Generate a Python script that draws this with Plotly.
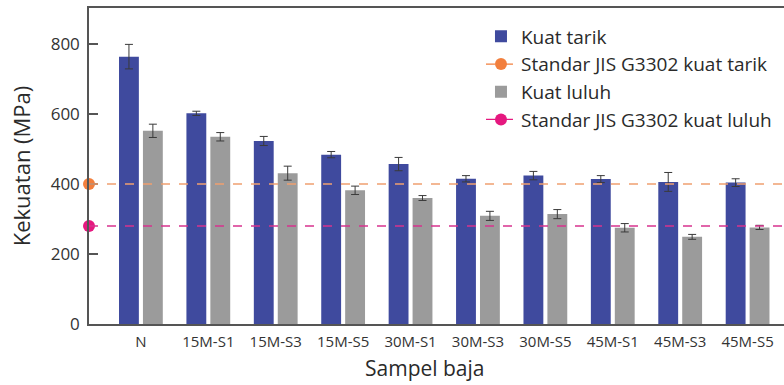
import plotly.graph_objects as go

categories = ["N", "15M-S1", "15M-S3", "15M-S5", "30M-S1", "30M-S3", "30M-S5", "45M-S1", "45M-S3", "45M-S5"]
kuat_tarik = [764, 602, 523, 484, 457, 415, 424, 414, 406, 404]
kuat_tarik_err = [35, 6, 13, 9, 19, 9, 12, 10, 27, 11]
kuat_luluh = [552, 535, 431, 382, 360, 309, 314, 275, 249, 276]
kuat_luluh_err = [19, 12, 20, 12, 7, 13, 13, 12, 7, 6]
std_tarik = 400
std_luluh = 280
y_ticks = [0, 200, 400, 600, 800]

FONT = "Open Sans"
BLUE = "#3f4a9e"
GRAY = "#9b9b9b"
ORANGE = "#f27f3d"
MAGENTA = "#e5187f"
X_RANGE = [-0.77, 9.54]
xpos = list(range(len(categories)))

fig = go.Figure()
fig.add_trace(go.Bar(
    x=xpos, y=kuat_tarik, name="Kuat tarik", marker=dict(color=BLUE, line=dict(width=0)),
    error_y=dict(type="data", array=kuat_tarik_err, color="#3a3a3a", thickness=1, width=4),
))
fig.add_trace(go.Scatter(
    x=[X_RANGE[0]], y=[std_tarik], name="Standar JIS G3302 kuat tarik", mode="lines+markers",
    marker=dict(color=ORANGE, size=12), line=dict(color=ORANGE, dash="dash", width=1.2),
    cliponaxis=False,
))
fig.add_trace(go.Bar(
    x=xpos, y=kuat_luluh, name="Kuat luluh", marker=dict(color=GRAY, line=dict(width=0)),
    error_y=dict(type="data", array=kuat_luluh_err, color="#3a3a3a", thickness=1, width=4),
))
fig.add_trace(go.Scatter(
    x=[X_RANGE[0]], y=[std_luluh], name="Standar JIS G3302 kuat luluh", mode="lines+markers",
    marker=dict(color=MAGENTA, size=12), line=dict(color=MAGENTA, dash="dash", width=1.2),
    cliponaxis=False,
))

shapes = []
for val, col in [(std_tarik, "#f0a070"), (std_luluh, "#d8338f")]:
    shapes.append(dict(type="line", xref="paper", yref="y", x0=0, x1=1, y0=val, y1=val,
                       line=dict(color=col, width=1.5, dash="dash"), layer="above"))

fig.update_layout(
    width=784, height=385,
    margin=dict(l=89, r=0, t=8, b=61),
    paper_bgcolor="white", plot_bgcolor="white",
    barmode="group", bargap=0.29, bargroupgap=0.17,
    font=dict(family=FONT, color="#2a2a2a"),
    shapes=shapes,
    showlegend=True,
    legend=dict(x=0.564, y=0.97, xanchor="left", yanchor="top", bgcolor="rgba(0,0,0,0)",
                font=dict(size=19, color="#2a2a2a", family=FONT), traceorder="normal",
                itemwidth=30),
    annotations=[dict(text="Sampel baja", xref="paper", yref="paper", x=0.4835, y=-0.138,
                      xanchor="center", yanchor="middle", showarrow=False,
                      font=dict(size=21, color="#2a2a2a", family=FONT))],
    xaxis=dict(range=X_RANGE, tickvals=xpos, ticktext=categories, showgrid=False, zeroline=False,
               showline=True, linecolor="#555555", linewidth=1.5, mirror=True, ticks="",
               ticklabelstandoff=3,
               tickfont=dict(size=15, color="#333333")),
    yaxis=dict(range=[0, 903], tickvals=y_ticks, showgrid=False, zeroline=False,
               showline=True, linecolor="#555555", linewidth=1.5, ticks="inside", ticklen=9,
               tickcolor="#555555", tickwidth=1.5, ticklabelstandoff=4,
               tickfont=dict(size=17, color="#333333"),
               title=dict(text="Kekuatan (MPa)", font=dict(size=22, color="#2a2a2a"), standoff=14)),
)

fig.write_html("out.html")
